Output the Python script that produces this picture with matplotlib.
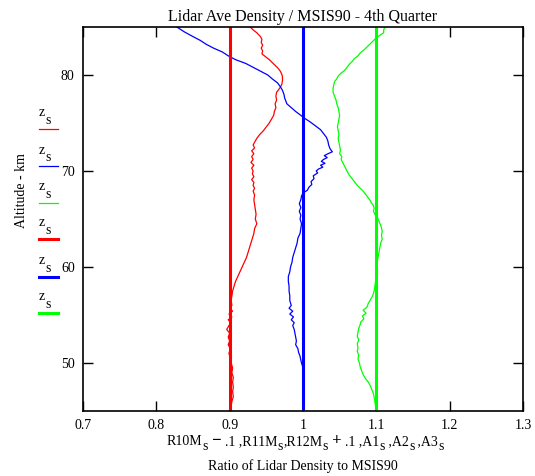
import matplotlib
matplotlib.use("Agg")
import matplotlib.pyplot as plt
from matplotlib.lines import Line2D

plt.rcParams['font.family'] = ['Liberation Serif', 'DejaVu Serif']

# R10M - .1 (red)
alt_red = [85.0, 84.7, 84.4, 84.0, 83.7, 83.4, 83.1, 82.8, 82.5, 82.2, 81.9, 81.6, 81.3, 81.0,
           80.7, 80.4, 80.1, 79.8, 79.4, 79.0, 78.6, 78.2, 77.8, 77.4, 77.0, 76.6, 76.2, 75.8,
           75.4, 75.0, 74.6, 74.2, 73.8, 73.4, 73.0, 72.7, 72.4, 72.1, 71.8, 71.5, 71.2, 70.9,
           70.6, 70.3, 70.0, 69.7, 69.4, 69.1, 68.8, 68.5, 68.2, 67.9, 67.5, 67.0, 66.5, 66.0,
           65.5, 65.0, 64.5, 64.0, 63.5, 63.0, 62.5, 62.0, 61.5, 61.0, 60.5, 60.0, 59.5, 59.0,
           58.5, 58.0, 57.5, 57.0, 56.5, 56.0, 55.7, 55.4, 55.1, 54.8, 54.5, 54.2, 53.9, 53.5,
           53.1, 52.7, 52.3, 51.9, 51.5, 51.0, 50.5, 50.0, 49.5, 49.0, 48.5, 48.0, 47.5, 47.0,
           46.5, 46.0, 45.5, 45.0]
val_red = [0.928, 0.932, 0.937, 0.942, 0.944, 0.943, 0.945, 0.943, 0.945, 0.944, 0.949, 0.954,
           0.958, 0.962, 0.966, 0.969, 0.971, 0.972, 0.972, 0.971, 0.968, 0.964, 0.963, 0.964,
           0.962, 0.963, 0.961, 0.960, 0.957, 0.954, 0.950, 0.946, 0.941, 0.937, 0.934, 0.932,
           0.934, 0.930, 0.933, 0.930, 0.932, 0.929, 0.933, 0.930, 0.932, 0.931, 0.933, 0.930,
           0.933, 0.932, 0.934, 0.932, 0.934, 0.933, 0.934, 0.935, 0.936, 0.935, 0.937, 0.934,
           0.933, 0.931, 0.929, 0.927, 0.925, 0.923, 0.920, 0.917, 0.914, 0.911, 0.908, 0.906,
           0.904, 0.903, 0.902, 0.903, 0.900, 0.904, 0.899, 0.903, 0.898, 0.902, 0.899, 0.896,
           0.900, 0.898, 0.900, 0.898, 0.901, 0.899, 0.901, 0.902, 0.904, 0.903, 0.905, 0.904,
           0.905, 0.904, 0.905, 0.903, 0.902, 0.900]

# R11M (blue)
alt_blue = [85.0, 84.5, 84.0, 83.6, 83.2, 82.8, 82.4, 82.0, 81.6, 81.2, 80.8, 80.4, 80.0, 79.6,
            79.2, 78.8, 78.4, 78.0, 77.6, 77.0, 76.6, 76.2, 75.8, 75.5, 75.1, 74.7, 74.3, 73.9,
            73.5, 73.1, 72.7, 72.3, 72.0, 71.8, 71.6, 71.4, 71.2, 71.0, 70.8, 70.6, 70.4, 70.2,
            70.0, 69.8, 69.5, 69.2, 68.9, 68.6, 68.3, 68.0, 67.7, 67.4, 67.0, 66.6, 66.2, 65.8,
            65.4, 65.0, 64.5, 64.0, 63.5, 63.0, 62.5, 62.0, 61.5, 61.0, 60.5, 60.0, 59.5, 59.0,
            58.5, 58.0, 57.5, 57.0, 56.5, 56.0, 55.7, 55.4, 55.1, 54.8, 54.5, 54.2, 53.9, 53.5,
            53.1, 52.7, 52.3, 51.9, 51.5, 51.1, 50.7, 50.3, 50.0, 49.5, 49.0, 48.0, 47.0, 46.0,
            45.0]
val_blue = [0.828, 0.838, 0.850, 0.860, 0.868, 0.878, 0.890, 0.898, 0.908, 0.922, 0.932, 0.942,
            0.952, 0.958, 0.965, 0.969, 0.972, 0.974, 0.975, 0.978, 0.984, 0.990, 0.997, 1.002,
            1.010, 1.017, 1.024, 1.028, 1.032, 1.034, 1.035, 1.037, 1.040, 1.034, 1.029, 1.033,
            1.028, 1.025, 1.030, 1.024, 1.027, 1.021, 1.018, 1.020, 1.014, 1.015, 1.011, 1.012,
            1.008, 1.006, 1.000, 0.998, 0.997, 0.995, 0.997, 0.995, 0.997, 0.996, 0.998, 0.997,
            0.996, 0.993, 0.992, 0.990, 0.988, 0.986, 0.985, 0.983, 0.982, 0.980, 0.980, 0.981,
            0.981, 0.982, 0.982, 0.984, 0.981, 0.986, 0.982, 0.987, 0.984, 0.988, 0.986, 0.988,
            0.989, 0.990, 0.991, 0.990, 0.993, 0.994, 0.996, 0.997, 0.998, 1.000, 1.000, 1.000,
            1.001, 1.000, 1.000]

# R12M + .1 (green)
alt_green = [85.0, 84.7, 84.4, 84.1, 83.8, 83.5, 83.2, 82.9, 82.6, 82.3, 82.0, 81.7, 81.4, 81.1,
             80.8, 80.5, 80.2, 79.9, 79.6, 79.3, 79.0, 78.6, 78.2, 77.8, 77.4, 77.0, 76.6, 76.2,
             75.8, 75.4, 75.0, 74.6, 74.2, 73.8, 73.4, 73.0, 72.6, 72.2, 71.8, 71.5, 71.2, 70.9,
             70.6, 70.3, 70.0, 69.7, 69.4, 69.1, 68.8, 68.5, 68.2, 67.9, 67.6, 67.3, 67.0, 66.7,
             66.4, 66.1, 65.8, 65.5, 65.2, 64.9, 64.5, 64.1, 63.7, 63.3, 62.9, 62.5, 62.1, 61.7,
             61.3, 60.9, 60.5, 60.0, 59.5, 59.0, 58.5, 58.0, 57.5, 57.0, 56.6, 56.2, 55.8, 55.5,
             55.2, 54.9, 54.6, 54.3, 54.0, 53.6, 53.2, 52.8, 52.4, 52.0, 51.6, 51.2, 50.8, 50.4,
             50.0, 49.6, 49.2, 48.8, 48.4, 48.0, 47.6, 47.2, 46.8, 46.4, 46.0, 45.5, 45.0]
val_green = [1.112, 1.110, 1.110, 1.104, 1.099, 1.095, 1.091, 1.087, 1.083, 1.078, 1.075, 1.070,
             1.067, 1.063, 1.060, 1.057, 1.052, 1.048, 1.046, 1.043, 1.042, 1.041, 1.041, 1.043,
             1.045, 1.046, 1.048, 1.049, 1.050, 1.049, 1.048, 1.047, 1.048, 1.049, 1.048, 1.049,
             1.050, 1.051, 1.050, 1.053, 1.052, 1.054, 1.056, 1.058, 1.060, 1.062, 1.065, 1.068,
             1.071, 1.074, 1.078, 1.082, 1.085, 1.088, 1.091, 1.093, 1.096, 1.097, 1.096, 1.098,
             1.101, 1.103, 1.105, 1.107, 1.108, 1.107, 1.108, 1.106, 1.105, 1.104, 1.103, 1.102,
             1.101, 1.100, 1.100, 1.099, 1.099, 1.098, 1.097, 1.095, 1.092, 1.089, 1.087, 1.082,
             1.086, 1.081, 1.083, 1.079, 1.078, 1.076, 1.075, 1.074, 1.076, 1.074, 1.075, 1.074,
             1.076, 1.075, 1.077, 1.078, 1.080, 1.082, 1.085, 1.089, 1.092, 1.094, 1.096, 1.097,
             1.098, 1.099, 1.099]

# A1, A2, A3 reference lines
ref_vals = [0.9, 1.0, 1.1]
colors = ['#ff0000', '#0000ff', '#00ff00']

xticks = [0.7, 0.8, 0.9, 1.0, 1.1, 1.2, 1.3]
xticklabels = ['0.7', '0.8', '0.9', '1', '1.1', '1.2', '1.3']
yticks = [50, 60, 70, 80]

# x label pieces: (text, is_subscript)
xlabel_pieces = [("R10M", 0), ("s", 1), ("\u2212", 2), (".1 ,R11M", 0), ("s", 1), (",R12M", 0), ("s", 1),
                 ("+", 2), (".1 ,A1", 0), ("s", 1), (" ,A2", 0), ("s", 1), (" ,A3", 0), ("s", 1)]

W, H = 535, 476
fig = plt.figure(figsize=(W / 100, H / 100), dpi=100)
ax = fig.add_axes([83 / W, 1 - 411 / H, 440 / W, 384 / H])

for a, v, c in zip([alt_red, alt_blue, alt_green], [val_red, val_blue, val_green], colors):
    ax.plot(v, a, color=c, lw=0.9)
for r, c in zip(ref_vals, colors):
    ax.plot([r, r], [45, 85], color=c, lw=2.2)

ax.set_xlim(0.7, 1.3)
ax.set_ylim(45, 85)
ax.set_xticks(xticks)
ax.set_xticklabels(xticklabels)
ax.set_yticks(yticks)
ax.tick_params(direction='in', length=7, width=1, top=True, right=True, labelsize=10, pad=6)
for s in ax.spines.values():
    s.set_linewidth(1.2)

ax.set_title("Lidar Ave Density / MSIS90 - 4th Quarter", fontsize=11.5, pad=4)
fig.text(303 / W, 1 - 466 / H, "Ratio of Lidar Density to MSIS90", ha='center', va='center', fontsize=10)
fig.text(0.04, 0.60, "Altitude - km", rotation=90, ha='center', va='center', fontsize=10)

# x label with lowered subscripts, laid out piece by piece
renderer = fig.canvas.get_renderer()
texts = []
for t, kind in xlabel_pieces:
    if kind == 2:
        tx = fig.text(0, 0, " " + t + " ", fontsize=12, fontweight='bold', va='baseline', ha='left')
    else:
        tx = fig.text(0, 0, t, fontsize=10, va='baseline', ha='left')
    texts.append((tx, kind))
widths = [tx.get_window_extent(renderer).width for tx, _ in texts]
x = 305 - sum(widths) / 2
base = 1 - 445 / H
for (tx, kind), w in zip(texts, widths):
    tx.set_position((x / W, base - (5 / H if kind == 1 else 0)))
    x += w

# legend column on the left
leg_y = [129, 166, 203, 239, 277, 313]
leg_w = [0.9, 0.9, 0.9, 2.2, 2.2, 2.2]
for i, y in enumerate(leg_y):
    c = colors[i % 3]
    fy = 1 - y / H
    fig.text(39 / W, fy + 16 / H, "z", ha='left', va='center', fontsize=10)
    fig.text(45 / W, fy + 8 / H, "s", ha='left', va='center', fontsize=10)
    fig.add_artist(Line2D([39 / W, 58 / W], [fy, fy], color=c, lw=leg_w[i],
                          transform=fig.transFigure))

fig.savefig("out.png", dpi=100)
